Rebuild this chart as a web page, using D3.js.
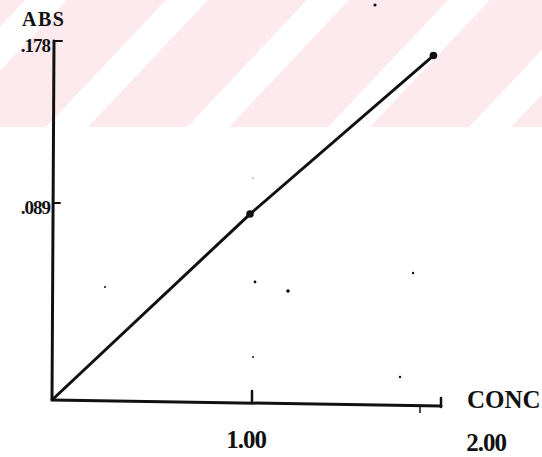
<!DOCTYPE html>
<html>
<head>
<meta charset="utf-8">
<script src="https://cdn.jsdelivr.net/npm/d3@7"></script>
<style>
  body { margin: 0; background: #fff; }
  text { font-family: "Liberation Serif", "DejaVu Serif", serif; font-weight: bold; fill: #111; }
</style>
</head>
<body>
<svg width="542" height="457"></svg>
<script>
var svg = d3.select('svg');

// calibration data
var conc = [0, 0.99, 1.96];
var abs = [0, 0.084, 0.170];
var xTicks = [1.00, 2.00];
var yTicks = [0.089, 0.178];
var xTickLabels = ['1.00', '2.00'];
var yTickLabels = ['.089', '.178'];

// scanned plot is slightly uneven, so use piecewise scales
var x = d3.scaleLinear().domain([0, 1, 2]).range([52, 252, 441]);
var y = d3.scaleLinear().domain([0, 0.089, 0.178]).range([400, 203, 41]);

// pink watermark stripes at the top
var band = svg.append('g');
band.append('rect')
    .attr('x', 0).attr('y', 0)
    .attr('width', 542).attr('height', 127)
    .attr('fill', '#fdeaee');
for (var k = 0; k < 5; k++) {
    var c = 46 + 141 * k;
    band.append('polygon')
        .attr('points', [[c - 21, 0], [c + 21, 0], [c + 21 - 120, 127], [c - 21 - 120, 127]].join(' '))
        .attr('fill', '#fff');
}

// axes
var g = svg.append('g').attr('stroke', '#111').attr('fill', 'none').attr('stroke-linecap', 'round');

g.append('line')
    .attr('x1', x(0)).attr('y1', y(0))
    .attr('x2', x(0) + 2).attr('y2', y(0.178))
    .attr('stroke-width', 3);
g.append('line')
    .attr('x1', x(0)).attr('y1', y(0))
    .attr('x2', x(2)).attr('y2', y(0) + 6)
    .attr('stroke-width', 3);

// y ticks point right
g.selectAll('.yt')
    .data(yTicks)
    .enter()
    .append('line')
    .attr('x1', x(0) + 2)
    .attr('x2', function(d, i){ return x(0) + (i == 1 ? 10 : 8); })
    .attr('y1', function(d){ return y(d); })
    .attr('y2', function(d){ return y(d); })
    .attr('stroke-width', 2);

// x ticks point up
g.selectAll('.xt')
    .data(xTicks)
    .enter()
    .append('line')
    .attr('x1', function(d){ return x(d); })
    .attr('x2', function(d){ return x(d); })
    .attr('y1', function(d, i){ return y(0) + (i == 1 ? 7 : 2); })
    .attr('y2', function(d, i){ return y(0) - (i == 1 ? 2 : 9); })
    .attr('stroke-width', 2.5);

svg.selectAll('.yl')
    .data(yTicks)
    .enter()
    .append('text')
    .attr('x', x(0) - 2)
    .attr('y', function(d){ return y(d) + 11; })
    .attr('text-anchor', 'end')
    .attr('font-size', 19)
    .attr('letter-spacing', -1)
    .text(function(d, i){ return yTickLabels[i]; });

svg.selectAll('.xl')
    .data(xTicks)
    .enter()
    .append('text')
    .attr('x', function(d, i){ return x(d) + (i == 1 ? 45 : -6); })
    .attr('y', function(d, i){ return y(0) + (i == 1 ? 51 : 48); })
    .attr('text-anchor', 'middle')
    .attr('font-size', 25)
    .attr('letter-spacing', -1)
    .text(function(d, i){ return xTickLabels[i]; });

svg.append('text')
    .attr('x', 22).attr('y', 26)
    .attr('font-size', 20)
    .attr('letter-spacing', 1.5)
    .text('ABS');

svg.append('text')
    .attr('x', 467).attr('y', 408)
    .attr('font-size', 25)
    .text('CONC');

// calibration line
var pts = conc.map(function(c, i){ return [x(c), y(abs[i])]; });
svg.append('path')
    .attr('d', d3.line()(pts))
    .attr('fill', 'none')
    .attr('stroke', '#111')
    .attr('stroke-width', 3)
    .attr('stroke-linejoin', 'round');

svg.selectAll('.pt')
    .data(pts.slice(1))
    .enter()
    .append('circle')
    .attr('cx', function(d){ return d[0]; })
    .attr('cy', function(d){ return d[1]; })
    .attr('r', 3.8)
    .attr('fill', '#111');

// scanner specks
var specks = [[375, 5, 1.6], [253, 178, 0.6], [105, 287, 1], [255, 282, 1.4], [288, 291, 1.8], [413, 273, 1.2], [253, 357, 1], [400, 377, 1.2]];
svg.selectAll('.sp')
    .data(specks)
    .enter()
    .append('circle')
    .attr('cx', function(d){ return d[0]; })
    .attr('cy', function(d){ return d[1]; })
    .attr('r', function(d){ return d[2]; })
    .attr('fill', '#111');

svg.append('line')
    .attr('x1', 420).attr('y1', 406)
    .attr('x2', 420).attr('y2', 413)
    .attr('stroke', '#111')
    .attr('stroke-width', 1.5);
</script>
</body>
</html>
